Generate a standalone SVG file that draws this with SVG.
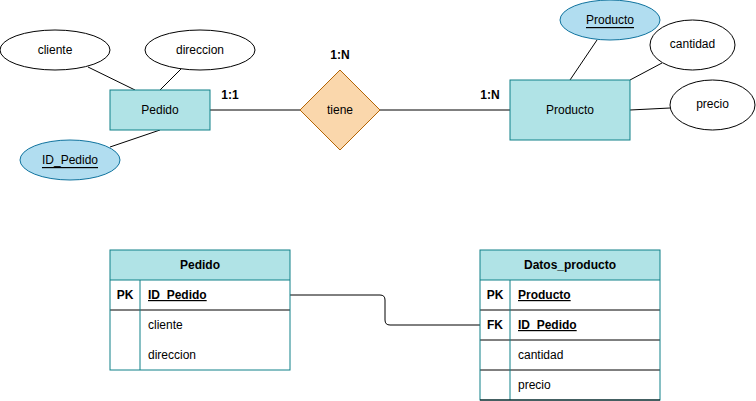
<svg xmlns="http://www.w3.org/2000/svg" width="756" height="401" viewBox="0 0 756 401">
<style>
text{font-family:"Liberation Sans",Arial,sans-serif;font-size:12px;fill:#000}
.c{text-anchor:middle;dominant-baseline:central}
.b{font-weight:bold}
.u{text-decoration:underline}
.attr{fill:#fff;stroke:#000;stroke-width:1}
.key{fill:#b1ddf0;stroke:#10739e;stroke-width:1}
.ent{fill:#b0e3e6;stroke:#0e8088;stroke-width:1}
.rel{fill:#fad7ac;stroke:#b46504;stroke-width:1}
.ln{stroke:#000;stroke-width:1;fill:none}
.tb{fill:none;stroke:#0e8088;stroke-width:1}
</style>
<rect width="756" height="401" fill="#fff"/>
<g id="connectors">
<line class="ln" x1="88" y1="67" x2="135" y2="90"/>
<line class="ln" x1="181" y1="69" x2="160" y2="90"/>
<line class="ln" x1="110" y1="147" x2="160" y2="130"/>
<line class="ln" x1="210" y1="110" x2="300" y2="110"/>
<line class="ln" x1="380" y1="110" x2="510" y2="110"/>
<line class="ln" x1="597" y1="40" x2="570" y2="80"/>
<line class="ln" x1="662" y1="63" x2="630" y2="80"/>
<line class="ln" x1="630" y1="110" x2="670" y2="108"/>
<path class="ln" d="M290 295 H380 Q385 295 385 300 V320 Q385 325 390 325 H480"/>
</g>
<g id="cliente"><ellipse class="attr" cx="55" cy="50" rx="55" ry="20"/><text class="c" x="55" y="50">cliente</text></g>
<g id="direccion"><ellipse class="attr" cx="200" cy="50" rx="55" ry="20"/><text class="c" x="200" y="50">direccion</text></g>
<g id="id_pedido"><ellipse class="key" cx="70" cy="160" rx="50" ry="20"/><text class="c u" x="70" y="160">ID_Pedido</text></g>
<g id="pedido"><rect class="ent" x="110" y="90" width="100" height="40"/><text class="c" x="160" y="110">Pedido</text></g>
<g id="tiene"><polygon class="rel" points="340,70 380,110 340,150 300,110"/><text class="c" x="340" y="110">tiene</text></g>
<g id="producto"><rect class="ent" x="510" y="80" width="120" height="60"/><text class="c" x="570" y="110">Producto</text></g>
<g id="producto_key"><ellipse class="key" cx="610" cy="20" rx="50" ry="20"/><text class="c u" x="610" y="20">Producto</text></g>
<g id="cantidad"><ellipse class="attr" cx="692.5" cy="45" rx="42.5" ry="25"/><text class="c" x="692.5" y="44">cantidad</text></g>
<g id="precio"><ellipse class="attr" cx="712.5" cy="105" rx="42.5" ry="25"/><text class="c" x="712.5" y="104">precio</text></g>
<g id="labels">
<text class="c b" x="230" y="95">1:1</text>
<text class="c b" x="340" y="55">1:N</text>
<text class="c b" x="490" y="95">1:N</text>
</g>
<g id="table_pedido">
<rect x="110" y="250" width="180" height="30" fill="#b0e3e6"/>
<line class="ln" x1="110" y1="310" x2="290" y2="310"/>
<line class="tb" x1="140" y1="280" x2="140" y2="370"/>
<line class="tb" x1="110" y1="280" x2="290" y2="280"/>
<rect class="tb" x="110" y="250" width="180" height="120"/>
<text class="c b" x="200" y="265">Pedido</text>
<text class="c b" x="125" y="295">PK</text>
<text class="b u" x="148" y="299">ID_Pedido</text>
<text x="148" y="329">cliente</text>
<text x="148" y="359">direccion</text>
</g>
<g id="table_datos_producto">
<rect x="480" y="250" width="180" height="30" fill="#b0e3e6"/>
<line class="ln" x1="480" y1="310" x2="660" y2="310"/>
<line class="ln" x1="480" y1="340" x2="660" y2="340"/>
<line class="ln" x1="480" y1="370" x2="660" y2="370"/>
<line class="tb" x1="510" y1="280" x2="510" y2="400"/>
<line class="tb" x1="480" y1="280" x2="660" y2="280"/>
<rect class="tb" x="480" y="250" width="180" height="150"/>
<line class="ln" x1="480" y1="400" x2="660" y2="400"/>
<text class="c b" x="570" y="265">Datos_producto</text>
<text class="c b" x="495" y="295">PK</text>
<text class="b u" x="518" y="299">Producto</text>
<text class="c b" x="495" y="325">FK</text>
<text class="b u" x="518" y="329">ID_Pedido</text>
<text x="518" y="359">cantidad</text>
<text x="518" y="389">precio</text>
</g>
</svg>
